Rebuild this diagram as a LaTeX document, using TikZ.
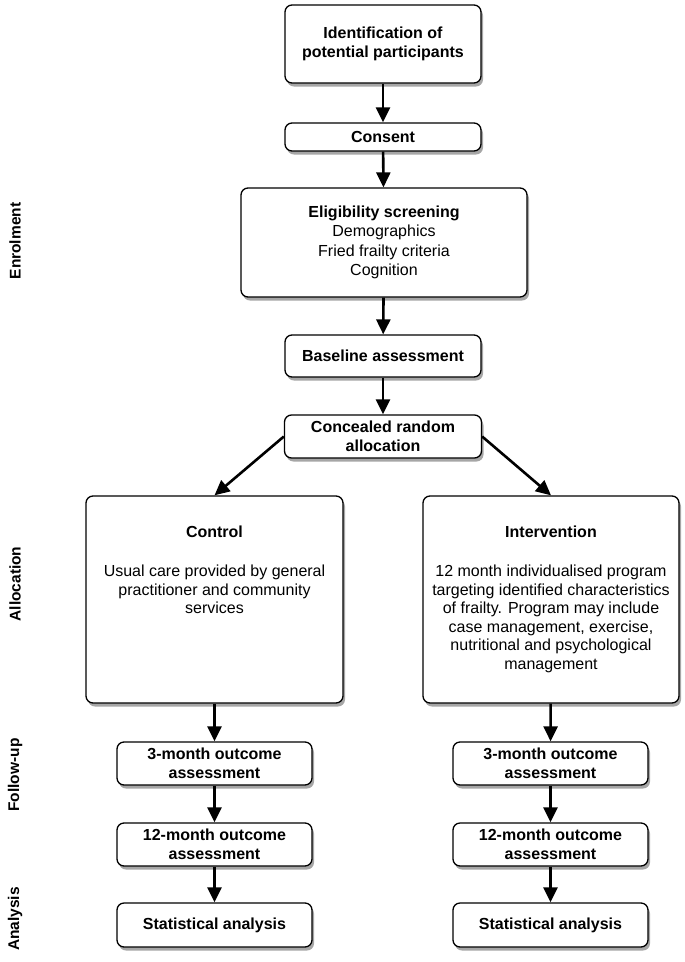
\documentclass[tikz,border=0pt]{standalone}
\usepackage{fontspec}
\setmainfont{Liberation Sans}
\usetikzlibrary{arrows.meta,shadows}
\begin{document}
\begin{tikzpicture}[x=1pt,y=-1pt,
  box/.style={draw, line width=1.3pt, rounded corners=7pt, fill=white,
    drop shadow={shadow xshift=2pt,shadow yshift=-3.5pt,opacity=0.35,fill=black},
    align=center, font=\fontsize{16}{19.5}\selectfont\bfseries, inner sep=0pt},
  body/.style={align=center, font=\fontsize{16}{18.5}\selectfont, inner sep=0pt},
  side/.style={rotate=90, font=\fontsize{15.5}{18}\selectfont\bfseries, inner sep=0pt},
  arr/.style={line width=2.6pt, -{Triangle[length=15pt,width=14pt]}}]
\useasboundingbox (0,0) rectangle (685,962);
% main column
\node[box, minimum width=196pt, minimum height=78pt] (ident) at (383,44) {Identification of\\potential participants};
\node[box, minimum width=196pt, minimum height=28pt] (consent) at (383,137) {Consent};
\node[box, minimum width=286pt, minimum height=109pt] (elig) at (384,242.5)
  {\fontsize{16}{19}\selectfont Eligibility screening\\\mdseries Demographics\\\mdseries Fried frailty criteria\\\mdseries Cognition};
\node[box, minimum width=196pt, minimum height=42pt] (base) at (383,356) {Baseline assessment};
\node[box, minimum width=197pt, minimum height=43pt] (conc) at (383,436.5) {\fontsize{16}{18.5}\selectfont Concealed random\\allocation};
% arms
\node[box, minimum width=257pt, minimum height=207pt] (ctrl) at (214.5,599.5) {};
\node[body, anchor=north] (ctrltext) at (214.5,526) {\textbf{Control}\\[20.5pt]Usual care provided by general\\practitioner and community\\services};
\node[box, minimum width=256pt, minimum height=207pt] (intv) at (551,599.5) {};
\node[body, anchor=north] (intvtext) at (551,526) {\textbf{Intervention}\\[20.5pt]12 month individualised program\\targeting identified characteristics\\of frailty. Program may include\\case management, exercise,\\nutritional and psychological\\management};
% follow-up
\node[box, minimum width=195pt, minimum height=43pt] (c3) at (214.5,763.5) {\fontsize{16}{18.5}\selectfont 3-month outcome\\assessment};
\node[box, minimum width=195pt, minimum height=43pt] (c12) at (214.5,844.5) {\fontsize{16}{18.5}\selectfont 12-month outcome\\assessment};
\node[box, minimum width=195pt, minimum height=44pt] (cs) at (214.5,925) {Statistical analysis};
\node[box, minimum width=195pt, minimum height=43pt] (i3) at (550.5,763.5) {\fontsize{16}{18.5}\selectfont 3-month outcome\\assessment};
\node[box, minimum width=195pt, minimum height=43pt] (i12) at (550.5,844.5) {\fontsize{16}{18.5}\selectfont 12-month outcome\\assessment};
\node[box, minimum width=195pt, minimum height=44pt] (is) at (550.5,925) {Statistical analysis};
% side labels
\node[side] (lenrol) at (15,241) {Enrolment};
\node[side] (lalloc) at (15,584) {Allocation};
\node[side] (lfollow) at (15,775) {Follow-up};
\node[side] (lanal) at (15,919) {Analysis};
% arrows
\draw[arr] (ident) -- (consent);
\draw[arr] (consent) -- (elig);
\draw[arr] (elig) -- (base);
\draw[arr] (base) -- (conc);
\draw[arr] (conc.west) -- (ctrl.north);
\draw[arr] (conc.east) -- (intv.north);
\draw[arr] (ctrl) -- (c3);
\draw[arr] (c3) -- (c12);
\draw[arr] (c12) -- (cs);
\draw[arr] (intv) -- (i3);
\draw[arr] (i3) -- (i12);
\draw[arr] (i12) -- (is);
\end{tikzpicture}
\end{document}
